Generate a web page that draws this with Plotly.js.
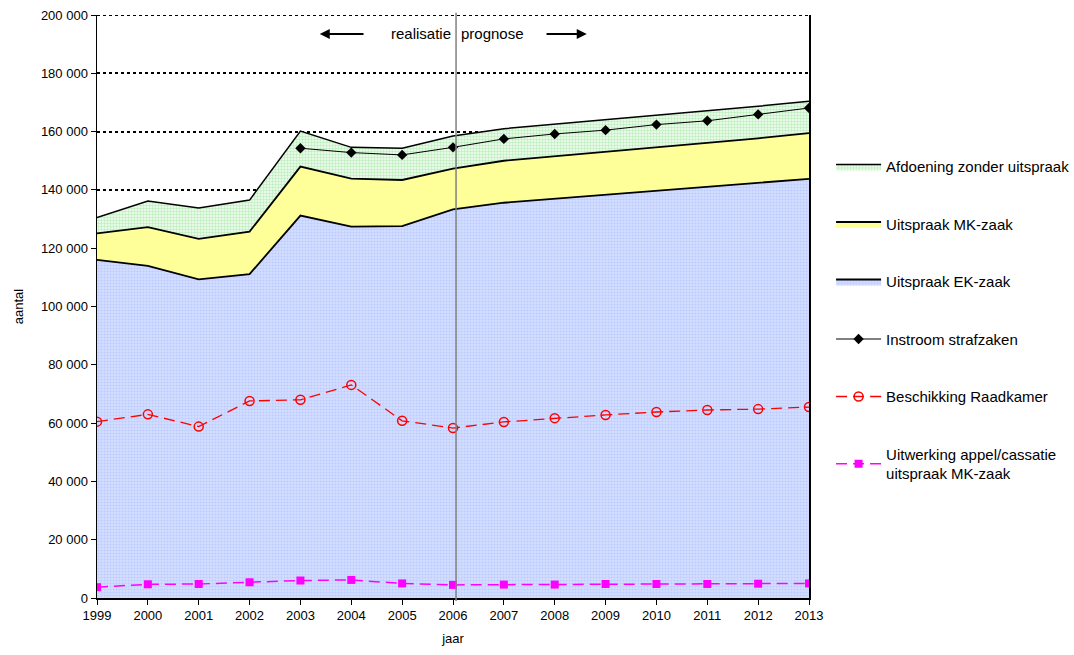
<!DOCTYPE html>
<html>
<head>
<meta charset="utf-8">
<script src="https://cdn.plot.ly/plotly-3.0.1.min.js"></script>
<style>
	body { margin: 0; background: #fff; }
	#graph { width: 1074px; height: 655px; }
</style>
</head>
<body>
<div id="graph"></div>
<script>
var years = [1999, 2000, 2001, 2002, 2003, 2004, 2005, 2006, 2007, 2008, 2009, 2010, 2011, 2012, 2013];

// stacked areas (per layer, not cumulative)
var uitspraakEK = [116000, 113900, 109300, 111100, 131200, 127400, 127600, 133300, 135600, 137000, 138300, 139700, 141000, 142400, 143800];
var uitspraakMK = [9100, 13300, 13900, 14600, 16800, 16500, 15800, 14000, 14400, 14500, 14700, 14800, 15000, 15300, 15700];
var afdoening = [5400, 9000, 10600, 10800, 12200, 10700, 10900, 11200, 11000, 11000, 11000, 11000, 11000, 11000, 10900];

var instroom = [null, null, null, null, 154300, 152800, 152000, 154600, 157500, 159200, 160500, 162400, 163700, 165900, 168100];
var raadkamer = [60500, 63000, 58800, 67600, 68000, 73100, 60800, 58300, 60400, 61700, 62800, 63800, 64500, 64800, 65500];
var appel = [3700, 4700, 4800, 5400, 6000, 6200, 5000, 4500, 4600, 4600, 4800, 4800, 4800, 4900, 5000];

var FONT = "Liberation Sans, Arial, sans-serif";

function genGraph()
{
	var ek, mk, afd, instr, raad, app, data, layout;

	ek =
	{
		x: years, y: uitspraakEK, type: "scatter", mode: "lines",
		name: "Uitspraak EK-zaak", stackgroup: "one", legendgroup: "c", legendrank: 3,
		line: {color: "#000", width: 1.8},
		fillcolor: "#cdd8ff",
		fillpattern: {shape: ".", bgcolor: "#d4deff", fgcolor: "#bccbff", size: 3, solidity: 0.4}
	};
	mk =
	{
		x: years, y: uitspraakMK, type: "scatter", mode: "lines",
		name: "Uitspraak MK-zaak", stackgroup: "one", legendgroup: "b", legendrank: 2,
		line: {color: "#000", width: 1.8},
		fillcolor: "#ffff99"
	};
	afd =
	{
		x: years, y: afdoening, type: "scatter", mode: "lines",
		name: "Afdoening zonder uitspraak", stackgroup: "one", legendgroup: "a", legendrank: 1,
		line: {color: "#000", width: 1.5},
		fillcolor: "#dcf7dc",
		fillpattern: {shape: ".", bgcolor: "#f6fff6", fgcolor: "#bdeebd", size: 3, solidity: 0.5}
	};
	instr =
	{
		x: years, y: instroom, type: "scatter", mode: "lines+markers",
		name: "Instroom strafzaken", legendgroup: "d", legendrank: 4,
		line: {color: "#000", width: 1},
		marker: {symbol: "diamond", size: 8, color: "#000"}
	};
	raad =
	{
		x: years, y: raadkamer, type: "scatter", mode: "lines+markers",
		name: "Beschikking Raadkamer", legendgroup: "e", legendrank: 5,
		line: {color: "#ff0000", width: 1.3, dash: "11px,6px"},
		marker: {symbol: "circle-open", size: 9, color: "#ff0000", line: {width: 1.5}}
	};
	app =
	{
		x: years, y: appel, type: "scatter", mode: "lines+markers",
		name: "Uitwerking appel/cassatie<br>uitspraak MK-zaak", legendgroup: "f", legendrank: 6,
		line: {color: "#ff00ff", width: 1.5, dash: "11px,6px"},
		marker: {symbol: "square", size: 8, color: "#ff00ff"}
	};

	data = [ek, mk, afd, instr, raad, app];

	layout =
	{
		width: 1074, height: 655,
		margin: {l: 97, r: 265, t: 15, b: 57, autoexpand: false},
		paper_bgcolor: "#fff", plot_bgcolor: "#fff",
		font: {family: FONT, size: 13, color: "#000"},
		separators: ", ",
		showlegend: true,
		legend:
		{
			x: 1.031, xanchor: "left", y: 0.768, yanchor: "top",
			traceorder: "grouped", tracegroupgap: 35, itemwidth: 45,
			font: {family: FONT, size: 15, color: "#000"},
			bgcolor: "rgba(0,0,0,0)"
		},
		xaxis:
		{
			range: [1999, 2013], dtick: 1, tick0: 1999,
			showgrid: false, zeroline: false,
			showline: true, linecolor: "#000", linewidth: 1.5,
			ticks: "outside", ticklen: 5, tickcolor: "#000",
			tickfont: {family: FONT, size: 13},
			title: {text: "jaar", font: {family: FONT, size: 13}, standoff: 12}
		},
		yaxis:
		{
			range: [0, 200000], dtick: 20000, tickformat: ",d",
			showgrid: true, gridcolor: "#000", gridwidth: 2, griddash: "dot",
			zeroline: false,
			showline: true, linecolor: "#000", linewidth: 1.5, mirror: true,
			ticks: "outside", ticklen: 5, tickcolor: "#000",
			tickfont: {family: FONT, size: 13},
			title: {text: "aantal", font: {family: FONT, size: 13}, standoff: 14}
		},
		shapes:
		[
			{
				type: "line", xref: "paper", yref: "y",
				x0: 0, x1: 1, y0: 200000, y1: 200000,
				line: {color: "#000", width: 2, dash: "dot"}
			},
			{
				type: "line", xref: "x", yref: "paper",
				x0: 2006.06, x1: 2006.06, y0: -0.005, y1: 1.004,
				line: {color: "#808080", width: 1.5}
			}
		],
		annotations:
		[
			{
				x: 2006.0, y: 193500, xref: "x", yref: "y", text: "realisatie",
				showarrow: false, xanchor: "right", font: {family: FONT, size: 15}
			},
			{
				x: 2006.12, y: 193500, xref: "x", yref: "y", text: "prognose",
				showarrow: false, xanchor: "left", font: {family: FONT, size: 15}
			},
			{
				x: 2003.38, y: 193500, xref: "x", yref: "y", text: "",
				showarrow: true, axref: "x", ayref: "y", ax: 2004.27, ay: 193500,
				arrowhead: 2, arrowsize: 1, arrowwidth: 2, arrowcolor: "#000"
			},
			{
				x: 2008.63, y: 193500, xref: "x", yref: "y", text: "",
				showarrow: true, axref: "x", ayref: "y", ax: 2007.81, ay: 193500,
				arrowhead: 2, arrowsize: 1, arrowwidth: 2, arrowcolor: "#000"
			}
		]
	};

	Plotly.newPlot("graph", data, layout, {displayModeBar: false, staticPlot: true});
}

genGraph();
</script>
</body>
</html>
